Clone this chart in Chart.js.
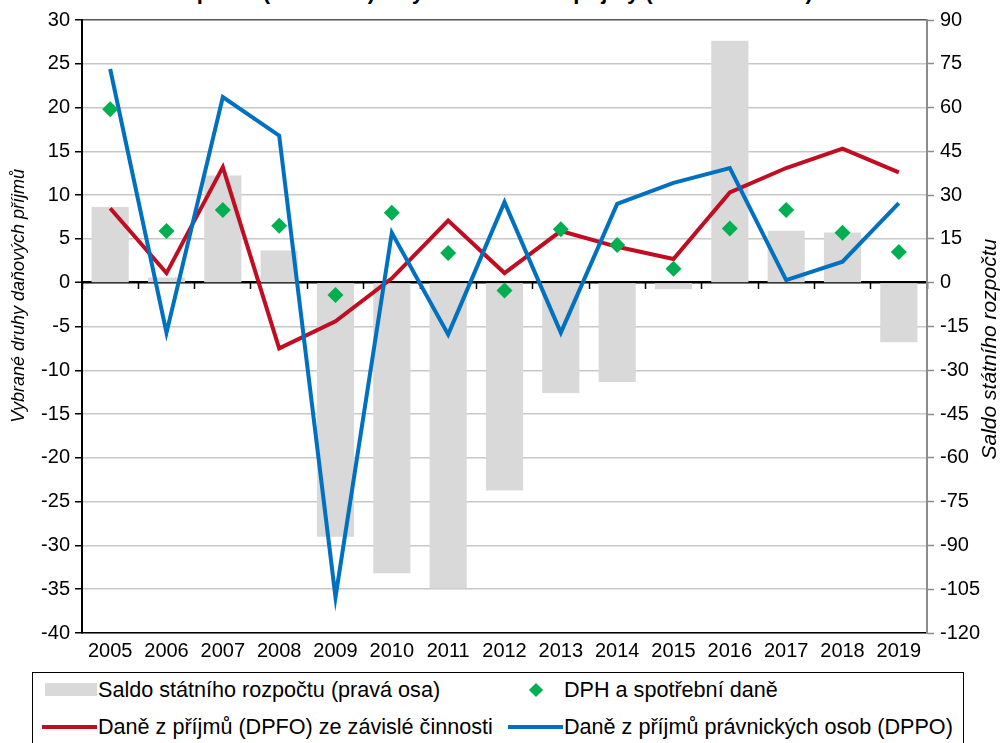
<!DOCTYPE html>
<html lang="cs">
<head>
<meta charset="utf-8">
<title>Saldo státního rozpočtu a daňové příjmy</title>
<script src="https://cdn.jsdelivr.net/npm/chart.js@4.4.1/dist/chart.umd.min.js"></script>
<style>
  html, body { margin: 0; padding: 0; background: #fff; overflow: hidden; }
  body { width: 1000px; height: 743px; position: relative; font-family: "Liberation Sans", Arial, sans-serif; color: #000; }
  #title { position: absolute; left: 6px; top: -19px; font-size: 22px; font-weight: bold; line-height: 22px; white-space: nowrap; }
  #wrap { position: absolute; left: 0; top: 0; width: 1000px; height: 665px; }
  #legend { position: absolute; left: 32px; top: 672px; width: 932px; height: 90px; border: 1px solid #000; box-sizing: border-box; font-size: 21.6px; }
  .item { position: absolute; height: 24px; line-height: 24px; white-space: nowrap; }
  .sw { position: absolute; }
  .txt { position: absolute; top: 0; }
</style>
</head>
<body>
<div id="title">Saldo státního rozpočtu (v mld. Kč) a vybrané daňové příjmy (meziročně v %)</div>
<div id="wrap"><canvas id="chart"></canvas></div>
<div id="legend"></div>
<script>
// Saldo státního rozpočtu vs. vybrané daňové příjmy, 2005-2019
const years = ["2005", "2006", "2007", "2008", "2009", "2010", "2011", "2012", "2013", "2014", "2015", "2016", "2017", "2018", "2019"];

// pravá osa
const saldo = [25.9, 1.8, 36.7, 11.0, -87.0, -99.5, -104.7, -71.2, -37.8, -34.0, -2.2, 82.9, 17.8, 17.2, -20.4];
// levá osa
const dpfo = [8.5, 1.1, 13.2, -7.5, -4.4, 0.5, 7.1, 1.1, 5.9, 4.1, 2.7, 10.3, 13.1, 15.3, 12.6];
const dppo = [24.4, -5.7, 21.2, 16.8, -35.9, 5.7, -5.9, 9.2, -5.7, 9.0, 11.4, 13.1, 0.3, 2.4, 9.1];
const dph = [19.8, 5.9, 8.3, 6.5, -1.4, 8.0, 3.4, -0.9, 6.1, 4.3, 1.6, 6.2, 8.3, 5.7, 3.5];

const leftTicks = { min: -40, max: 30, step: 5 };
const rightTicks = { min: -120, max: 90, step: 15 };

const leftTitle = "Vybrané druhy daňových příjmů";
const rightTitle = "Saldo státního rozpočtu";

const lbl = {
  saldo: "Saldo státního rozpočtu (pravá osa)",
  dph: "DPH a spotřební daně",
  dpfo: "Daně z příjmů (DPFO) ze závislé činnosti",
  dppo: "Daně z příjmů právnických osob (DPPO)"
};
const col = { saldo: "#d9d9d9", dph: "#00b050", dpfo: "#c00d22", dppo: "#0070c0" };

const FONT = '"Liberation Sans", Arial, sans-serif';
Chart.defaults.font.family = FONT;
Chart.defaults.color = "#000";

// axis titles sit a bit off-centre in the original, so draw them by hand
const axisTitles = {
  id: "axisTitles",
  afterDraw(chart) {
    const c = chart.ctx;
    const a = chart.chartArea;
    c.save();
    c.fillStyle = "#000";
    c.textAlign = "center";
    c.textBaseline = "middle";
    c.font = "italic 18px " + FONT;
    c.translate(19, a.top + (a.bottom - a.top) * 0.45);
    c.rotate(-Math.PI / 2);
    c.fillText(leftTitle, 0, 0);
    c.restore();
    c.save();
    c.fillStyle = "#000";
    c.textAlign = "center";
    c.textBaseline = "middle";
    c.font = "italic 21px " + FONT;
    c.translate(990, a.top + (a.bottom - a.top) * 0.537);
    c.rotate(-Math.PI / 2);
    c.fillText(rightTitle, 0, 0);
    c.restore();
  }
};

const ctx = document.getElementById("chart").getContext("2d");
const chart = new Chart(ctx, {
  data: {
    labels: years,
    datasets: [
      { type: "line", label: lbl.dph, data: dph, yAxisID: "y", showLine: false,
        pointStyle: "rectRot", pointRadius: 8, backgroundColor: col.dph, borderColor: col.dph, borderWidth: 0, order: 0 },
      { type: "line", label: lbl.dppo, data: dppo, yAxisID: "y", borderColor: col.dppo, borderWidth: 4,
        pointRadius: 0, fill: false, tension: 0, order: 1 },
      { type: "line", label: lbl.dpfo, data: dpfo, yAxisID: "y", borderColor: col.dpfo, borderWidth: 4,
        pointRadius: 0, fill: false, tension: 0, order: 2 },
      { type: "bar", label: lbl.saldo, data: saldo, yAxisID: "y1", backgroundColor: col.saldo,
        barPercentage: 0.66, categoryPercentage: 1, order: 3 }
    ]
  },
  options: {
    responsive: true,
    maintainAspectRatio: false,
    animation: false,
    events: [],
    layout: { padding: { top: 20, left: 0, right: 0, bottom: 0 } },
    plugins: { legend: { display: false }, tooltip: { enabled: false }, title: { display: false } },
    scales: {
      x: {
        offset: true,
        grid: { display: false, drawTicks: false },
        border: { color: "#000", width: 1.5 },
        ticks: { font: { size: 20 }, color: "#000", padding: 6, maxRotation: 0, autoSkip: false },
        afterFit(s) { s.height = 32; }
      },
      // tick marks on the zero line
      x2: {
        type: "category",
        labels: years,
        offset: true,
        position: { y: 0 },
        grid: { offset: true, drawOnChartArea: false, drawTicks: true, tickLength: 6, tickColor: "#000", tickWidth: 1.5 },
        border: { display: false },
        ticks: { display: false }
      },
      y: {
        position: "left",
        min: leftTicks.min,
        max: leftTicks.max,
        ticks: { stepSize: leftTicks.step, font: { size: 20 }, color: "#000", padding: 5 },
        grid: {
          color: c => c.tick.value === 0 ? "#000" : (c.tick.value === leftTicks.max ? "#555" : "#c8c8c8"),
          lineWidth: c => c.tick.value === 0 ? 2.5 : 1.5,
          tickColor: "#000",
          tickLength: 7,
          tickWidth: 1.5
        },
        border: { color: "#000", width: 2 },
        afterFit(s) { s.width = 82; }
      },
      y1: {
        position: "right",
        min: rightTicks.min,
        max: rightTicks.max,
        ticks: { stepSize: rightTicks.step, font: { size: 20 }, color: "#000", padding: 6 },
        grid: { drawOnChartArea: false, tickColor: "#8c8c8c", tickLength: 7, tickWidth: 1.5 },
        border: { color: "#8c8c8c", width: 2 },
        afterFit(s) { s.width = 73; }
      }
    }
  },
  plugins: [axisTitles]
});

// legend in two columns like the original
const legendItems = [
  { text: lbl.saldo, kind: "box", color: col.saldo, row: 0, colm: 0 },
  { text: lbl.dph, kind: "diamond", color: col.dph, row: 0, colm: 1 },
  { text: lbl.dpfo, kind: "line", color: col.dpfo, row: 1, colm: 0 },
  { text: lbl.dppo, kind: "line", color: col.dppo, row: 1, colm: 1 }
];
const legend = document.getElementById("legend");
const colX = [9, 475];
const rowY = [5, 42];
legendItems.forEach(it => {
  const d = document.createElement("div");
  d.className = "item";
  d.style.left = colX[it.colm] + "px";
  d.style.top = rowY[it.row] + "px";
  const sw = document.createElement("span");
  sw.className = "sw";
  if (it.kind === "box") {
    Object.assign(sw.style, { left: "3px", top: "5px", width: "52px", height: "13px", background: it.color });
  } else if (it.kind === "line") {
    Object.assign(sw.style, { left: "0px", top: "10px", width: "55px", height: "4px", background: it.color });
  } else {
    Object.assign(sw.style, { left: "23px", top: "7px", width: "10px", height: "10px", background: it.color, transform: "rotate(45deg)" });
  }
  const t = document.createElement("span");
  t.className = "txt";
  t.style.left = "56px";
  t.textContent = it.text;
  d.appendChild(sw);
  d.appendChild(t);
  legend.appendChild(d);
});
</script>
</body>
</html>
